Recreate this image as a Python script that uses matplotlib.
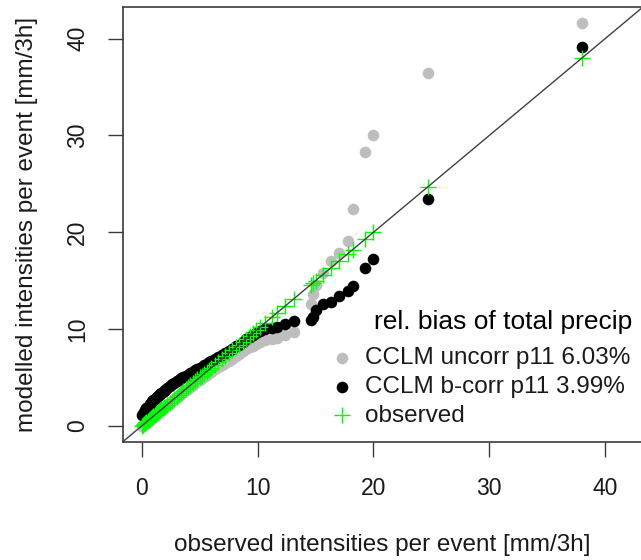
import matplotlib
matplotlib.use("Agg")
import matplotlib.pyplot as plt

plt.rcParams['font.family'] = ['Liberation Sans', 'DejaVu Sans']

# quantiles of event intensities [mm/3h], sorted
observed = [0.0, 0.1, 0.2, 0.3, 0.4, 0.5, 0.6, 0.7, 0.8, 0.9,
            1.0, 1.1, 1.2, 1.3, 1.4, 1.5, 1.6, 1.7, 1.8, 1.9,
            2.0, 2.2, 2.4, 2.6, 2.8, 3.0, 3.2, 3.4, 3.6, 3.8,
            4.0, 4.2, 4.4, 4.6, 4.8, 5.0, 5.2, 5.4, 5.6, 5.8,
            6.0, 6.3, 6.6, 6.9, 7.2, 7.5, 7.8, 8.1, 8.4, 8.7,
            9.0, 9.3, 9.6, 9.9, 10.2,
            10.6, 11.2, 11.7, 12.4, 13.1,
            14.6, 14.8, 15.0, 15.6, 16.3, 17.0, 17.8, 18.2, 19.3, 20.0,
            24.7, 38.0]

bcorr = [1.1, 1.25, 1.4, 1.6, 1.8, 1.95, 2.1, 2.25, 2.4, 2.55,
         2.7, 2.8, 2.9, 3.0, 3.1, 3.2, 3.3, 3.4, 3.5, 3.6,
         3.7, 3.9, 4.1, 4.3, 4.45, 4.6, 4.75, 4.9, 5.0, 5.15,
         5.3, 5.45, 5.6, 5.75, 5.9, 6.0, 6.1, 6.25, 6.4, 6.55,
         6.7, 6.9, 7.1, 7.3, 7.5, 7.7, 7.95, 8.2, 8.4, 8.7,
         8.95, 9.2, 9.4, 9.6, 9.8,
         10.0, 10.1, 10.2, 10.5, 10.8,
         10.9, 11.2, 12.0, 12.6, 12.8, 13.4, 13.9, 14.4, 16.3, 17.2,
         23.4, 39.1]

uncorr = [0.0, 0.1, 0.2, 0.3, 0.35, 0.45, 0.55, 0.65, 0.75, 0.85,
          0.95, 1.05, 1.15, 1.25, 1.35, 1.45, 1.55, 1.65, 1.75, 1.85,
          1.95, 2.15, 2.35, 2.55, 2.75, 2.95, 3.1, 3.3, 3.5, 3.7,
          3.85, 4.05, 4.25, 4.4, 4.6, 4.75, 4.95, 5.1, 5.3, 5.45,
          5.6, 5.85, 6.05, 6.25, 6.5, 6.7, 6.95, 7.2, 7.45, 7.7,
          7.9, 8.1, 8.3, 8.45, 8.65,
          8.85, 9.0, 9.1, 9.4, 9.7,
          12.6, 13.6, 14.6, 15.8, 17.0, 17.9, 19.1, 22.4, 28.3, 30.0,
          36.4, 41.6]

labels = ["CCLM uncorr p11 6.03%", "CCLM b-corr p11 3.99%", "observed"]
ticks = [0, 10, 20, 30, 40]

fig = plt.figure(figsize=(6.41, 5.6), dpi=100)
ax = fig.add_axes([122.5 / 641, 118 / 560, 520.5 / 641, 435 / 560])

ax.scatter(observed, uncorr, s=70, color='#BEBEBE', linewidths=0, label=labels[0], zorder=2)
ax.scatter(observed, bcorr, s=70, color='black', linewidths=0, label=labels[1], zorder=3)
ax.scatter(observed, observed, s=145, marker='+', color='#00FF00', linewidths=1.0,
           label=labels[2], zorder=4)

top = max(max(observed), max(bcorr), max(uncorr))
lim = (-0.04 * top, 1.04 * top)
ax.plot(lim, lim, color='#404040', lw=1.0, zorder=5)
ax.set_xlim(lim)
ax.set_ylim(lim)

ax.set_xticks(ticks)
ax.set_yticks(ticks)
for sp in ax.spines.values():
    sp.set_color('#3a3a3a')
    sp.set_linewidth(1.2)
ax.tick_params(direction='out', length=10.5, width=1.0, color='#3a3a3a',
               labelsize=16.5, labelcolor='#1a1a1a')
ax.tick_params(axis='x', pad=15)
ax.tick_params(axis='y', pad=13.5, labelrotation=90)
for lab in ax.get_yticklabels():
    lab.set_va('center')

ax.set_xlabel("observed intensities per event [mm/3h]", fontsize=17.5, color='#1a1a1a')
ax.set_ylabel("modelled intensities per event [mm/3h]", fontsize=17.5, color='#1a1a1a')
ax.xaxis.label.set_va('center')
ax.xaxis.set_label_coords(0.5, (442 - 545) / 435)
ax.yaxis.label.set_va('center')
ax.yaxis.set_label_coords((27 - 122.5) / 520.5, 0.5)

leg = ax.legend(loc='center left', bbox_to_anchor=((332.5 - 122.5) / 520.5, (442 - 387) / 435),
                frameon=False, fontsize=17.5, borderpad=0, borderaxespad=0,
                handlelength=0.8, handletextpad=0.55, labelspacing=0.27)
for t in leg.get_texts():
    t.set_color('#1a1a1a')
ax.text((632 - 122.5) / 520.5, (442 - 322) / 435, "rel. bias of total precip",
        transform=ax.transAxes, ha='right', va='center', fontsize=19, color='black')

fig.savefig("out.png", dpi=100)
